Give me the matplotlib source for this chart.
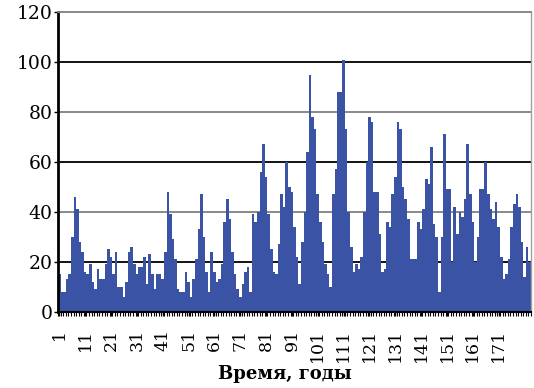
import matplotlib
matplotlib.use('Agg')
import matplotlib.pyplot as plt
import numpy as np

# values per year
values = [15, 8, 8, 13, 15, 30, 46, 41, 28, 24, 16, 15, 19, 12, 9, 17, 13, 13, 19, 25, 22, 15, 24,
          10, 10, 6, 12, 24, 26, 19, 15, 18, 18, 22, 11, 23, 15, 9, 15, 15, 13, 24, 48,
          39, 29, 21, 9, 8, 8, 16, 12, 6, 13, 21, 33, 47,
          30, 16, 8, 24, 16, 12, 13, 19, 36, 45, 37, 24, 15, 9, 6, 11, 16, 18, 8, 39, 36, 40, 56, 67,
          54, 39, 25, 16, 15, 27, 47, 42, 60, 50, 48, 34, 22, 11, 28, 40, 64, 95, 78, 73,
          47, 36, 28, 19, 15, 10, 47, 57, 88, 88, 101, 73, 40, 26, 16, 19, 17, 22, 40, 60, 78, 76,
          48, 48, 31, 16, 17, 36, 34, 47, 54,
          76, 73, 50, 45, 37, 21, 21, 21, 36, 33, 41, 53, 51, 66,
          35, 30, 8, 30, 71, 49, 49, 20, 42, 31, 40, 38, 45,
          67, 47, 36, 20, 30, 49, 49, 60, 47, 41, 37, 44, 34, 22, 13, 15, 21, 34, 43, 47,
          42, 28, 14, 26, 20]
years = list(range(1, len(values) + 1))
y_ticks = [0, 20, 40, 60, 80, 100, 120]
x_labels = list(range(1, 172, 10))

plt.rcParams['font.family'] = ['DejaVu Serif']

fig = plt.figure(figsize=(5.34, 3.88), dpi=100)
ax = fig.add_axes([0.1086, 0.196, 0.8858, 0.773])

# grid lines alternate black / gray like in the scan
for v in y_ticks[1:-1]:
    c = 'black' if (v // 20) % 2 == 1 else '#808080'
    ax.axhline(v, color=c, lw=1.3, zorder=1)

ax.bar(years, values, width=1.0, color='#3a53a4', linewidth=0, zorder=2)

ax.set_xlim(0.5, len(years) + 0.5)
ax.set_ylim(0, 120)
ax.set_yticks(y_ticks)
ax.set_xticks(x_labels)
ax.set_xticklabels([str(x) for x in x_labels], rotation=90, fontsize=12.5)
ax.set_xticks(np.arange(0.5, len(years) + 1, 1), minor=True)
ax.tick_params(axis='x', which='major', length=3, width=1, pad=9)
ax.tick_params(axis='x', which='minor', length=3, width=0.8)
ax.tick_params(axis='y', labelsize=13.5, length=3, width=1, pad=1)

ax.spines['left'].set_linewidth(2)
ax.spines['bottom'].set_linewidth(1.5)
ax.spines['top'].set_color('#808080')
ax.spines['top'].set_linewidth(1.3)
ax.spines['right'].set_color('#a0a0a0')
ax.spines['right'].set_linewidth(1)

fig.text(285 / 534, 1 - 374 / 388, 'Время, годы', fontsize=13, fontweight='bold',
         ha='center', va='center')

fig.savefig('out.png', dpi=100)
